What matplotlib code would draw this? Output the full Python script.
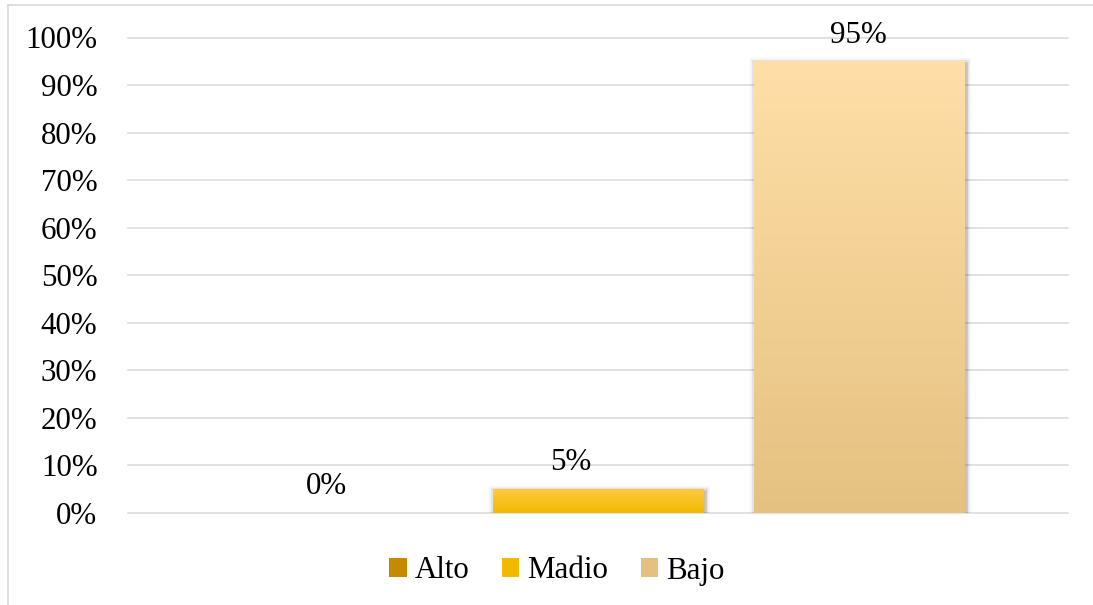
import numpy as np
import matplotlib
matplotlib.use("Agg")
import matplotlib.pyplot as plt
from matplotlib.colors import LinearSegmentedColormap
from matplotlib.patches import Rectangle, Patch
import matplotlib.patheffects as pe

# Data
series = ["Alto", "Madio", "Bajo"]
values = [0.00, 0.05, 0.95]
value_labels = ["0%", "5%", "95%"]
yticks = [0.0, 0.1, 0.2, 0.3, 0.4, 0.5, 0.6, 0.7, 0.8, 0.9, 1.0]
ytick_labels = ["0%", "10%", "20%", "30%", "40%", "50%", "60%", "70%", "80%", "90%", "100%"]

# Vertical gradients (top, bottom) per series
gradients = [("#DDA832", "#C48A00"), ("#FFCA40", "#F2B900"), ("#FFDFA8", "#E5C181")]

plt.rcParams["font.family"] = ["Liberation Serif", "DejaVu Serif"]
FS = 22.3

fig = plt.figure(figsize=(10.93, 6.05), dpi=100)
ax = fig.add_axes([128 / 1093, 1 - 513 / 605, 940 / 1093, 475.5 / 605])

# outer chart frame (left and top edges visible)
fig.add_artist(plt.Line2D([8 / 1093, 8 / 1093], [0, 1 - 5 / 605], transform=fig.transFigure,
                          color="#D9D9D9", linewidth=1.2, zorder=0))
fig.add_artist(plt.Line2D([8 / 1093, 1], [1 - 5 / 605, 1 - 5 / 605], transform=fig.transFigure,
                          color="#D9D9D9", linewidth=1.2, zorder=0))

x = np.arange(len(series)) - 1.0
width = 0.808
bars = ax.bar(x, values, width=width, zorder=3, linewidth=0)

soft_shadow = [
    pe.Stroke(offset=(1.2, -1.5), linewidth=7, foreground="#000000", alpha=0.04),
    pe.Stroke(offset=(1.2, -1.5), linewidth=4.5, foreground="#000000", alpha=0.07),
    pe.Stroke(offset=(1.2, -1.5), linewidth=2, foreground="#000000", alpha=0.12),
    pe.Normal(),
]

for b, (top, bot), lab, dx in zip(bars, gradients, value_labels, [-10, -27, -1]):
    b.set_facecolor(bot)
    h = b.get_height()
    if h > 0:
        b.set_path_effects(soft_shadow)
        cmap = LinearSegmentedColormap.from_list("g", [bot, top])
        grad = np.linspace(0, 1, 256).reshape(-1, 1)
        im = ax.imshow(grad, cmap=cmap, aspect="auto", origin="lower",
                       extent=(b.get_x(), b.get_x() + b.get_width(), 0, h), zorder=4)
        im.set_clip_path(b)
    ax.annotate(lab, (b.get_x() + b.get_width() / 2, h), xytext=(dx * 0.72, 13.5),
                textcoords="offset points", ha="center", va="baseline",
                fontsize=FS, color="#000000", annotation_clip=False, zorder=6)

ax.set_xlim(-1.8, 1.8)
ax.set_ylim(0, 1.0)
ax.set_yticks(yticks)
ax.set_yticklabels(ytick_labels, fontsize=FS)
ax.set_xticks([])
ax.tick_params(axis="y", length=0, pad=22)
ax.grid(axis="y", color="#D9D9D9", linewidth=1.1, zorder=0)
ax.set_axisbelow(True)
for s in ax.spines.values():
    s.set_visible(False)
for gl in ax.get_ygridlines():
    gl.set_clip_on(False)

handles = [Patch(facecolor=g[1], edgecolor="none") for g in gradients]
fig.legend(handles, series, loc="center", bbox_to_anchor=(557 / 1093, 1 - 571 / 605),
           ncol=3, frameon=False, fontsize=FS, handlelength=0.56, handleheight=0.56,
           handletextpad=0.26, columnspacing=1.05)

fig.savefig("out.png", dpi=100)
